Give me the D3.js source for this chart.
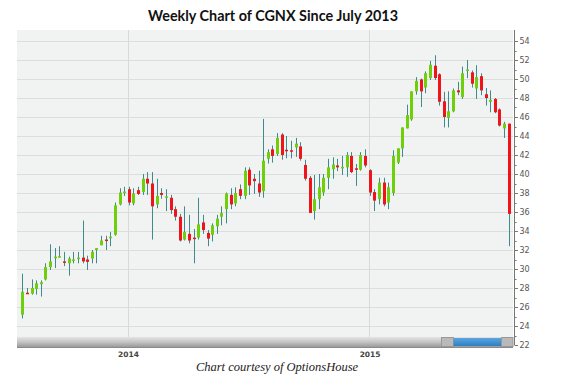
<!DOCTYPE html>
<html><head><meta charset="utf-8">
<script src="https://cdn.jsdelivr.net/npm/d3@7"></script>
<style>body{margin:0;background:#fff}svg{display:block}</style>
</head><body><svg id="c" width="562" height="392"></svg>
<script>
const title = "Weekly Chart of CGNX Since July 2013";
const caption = "Chart courtesy of OptionsHouse";
const dates = [
"2013-07-26","2013-08-02","2013-08-09","2013-08-16","2013-08-23","2013-08-30","2013-09-06","2013-09-13","2013-09-20","2013-09-27",
"2013-10-04","2013-10-11","2013-10-18","2013-10-25","2013-11-01","2013-11-08","2013-11-15","2013-11-22","2013-11-29","2013-12-06",
"2013-12-13","2013-12-20","2013-12-27","2014-01-03","2014-01-10","2014-01-17","2014-01-24","2014-01-31","2014-02-07","2014-02-14",
"2014-02-21","2014-02-28","2014-03-07","2014-03-14","2014-03-21","2014-03-28","2014-04-04","2014-04-11","2014-04-18","2014-04-25",
"2014-05-02","2014-05-09","2014-05-16","2014-05-23","2014-05-30","2014-06-06","2014-06-13","2014-06-20","2014-06-27","2014-07-04",
"2014-07-11","2014-07-18","2014-07-25","2014-08-01","2014-08-08","2014-08-15","2014-08-22","2014-08-29","2014-09-05","2014-09-12",
"2014-09-19","2014-09-26","2014-10-03","2014-10-10","2014-10-17","2014-10-24","2014-10-31","2014-11-07","2014-11-14","2014-11-21",
"2014-11-28","2014-12-05","2014-12-12","2014-12-19","2014-12-26","2015-01-02","2015-01-09","2015-01-16","2015-01-23","2015-01-30",
"2015-02-06","2015-02-13","2015-02-20","2015-02-27","2015-03-06","2015-03-13","2015-03-20","2015-03-27","2015-04-03","2015-04-10",
"2015-04-17","2015-04-24","2015-05-01","2015-05-08","2015-05-15","2015-05-22","2015-05-29","2015-06-05","2015-06-12","2015-06-19",
"2015-06-26","2015-07-03","2015-07-10","2015-07-17","2015-07-24","2015-07-31"];
const opens = [25.2,27.5,27.4,27.9,28.4,28.9,30.2,31.2,31.3,30.8, 30.6,30.9,31.1,31.2,31.0,31.1,32.0,32.5,33.1,33.3,
 33.6,36.8,38.1,38.4,36.9,38.3,38.1,39.5,39.0,36.8, 38.0,37.5,37.5,36.3,35.5,33.1,33.7,33.3,33.3,34.9,
 33.8,33.6,34.5,35.5,36.3,37.8,36.9,38.4,37.7,40.45, 39.5,39.0,38.2,41.6,42.6,42.1,44.15,42.55,42.5,42.8,
 42.9,40.95,39.6,36.1,37.35,38.05,39.6,40.5,40.9,40.6, 40.7,41.9,40.6,40.45,41.9,40.4,38.1,37.35,39.1,37.0,
 38.0,41.2,42.7,44.8,45.75,48.7,49.95,49.1,50.1,51.4, 50.5,47.65,45.9,46.6,48.8,48.1,50.9,50.7,49.0,50.3,
 48.4,47.6,47.9,46.8,44.8,45.3];
const highs = [29.5,28.0,28.9,28.8,28.8,30.6,32.6,32.2,32.4,31.8, 31.3,31.8,31.8,35.1,31.4,32.0,32.2,33.5,33.5,33.9,
 37.0,38.5,38.65,38.65,38.5,38.65,40.0,40.2,40.2,39.5, 38.5,38.4,37.8,36.6,35.8,36.6,35.7,34.2,37.5,35.7,
 34.1,34.8,35.7,36.6,38.05,38.5,38.6,38.9,40.7,40.7, 40.0,40.35,45.8,42.6,43.0,44.3,44.3,44.0,43.5,43.8,
 43.35,41.5,39.8,39.9,40.0,40.0,41.6,41.75,41.6,41.9, 42.3,42.3,41.05,42.3,42.6,40.5,38.4,39.6,39.6,39.1,
 42.5,42.7,44.9,47.3,48.7,50.2,50.05,50.8,51.9,52.5, 50.6,48.65,48.7,49.0,49.7,51.3,52.0,50.9,51.45,50.6,
 49.05,48.8,48.0,46.9,45.5,45.3];
const lows = [24.8,27.4,27.3,27.3,27.1,28.8,29.9,30.1,31.2,30.3, 29.3,30.6,30.6,30.6,29.9,30.6,30.6,32.5,32.0,32.4,
 33.5,36.7,37.7,36.7,36.7,37.8,37.8,37.8,33.1,36.4, 37.4,36.1,35.8,35.1,32.9,33.0,32.7,30.6,33.1,33.7,
 32.4,32.9,33.7,34.6,34.8,36.3,36.6,37.35,37.35,37.8, 37.9,37.6,37.5,41.1,41.2,41.9,41.5,41.65,41.65,41.8,
 41.4,39.3,35.9,35.2,36.3,37.7,38.4,39.5,40.3,39.9, 39.7,40.1,38.75,40.35,40.7,37.7,36.1,36.8,36.6,36.3,
 37.7,41.05,41.8,44.8,45.6,48.35,47.05,48.5,49.9,49.9, 47.2,44.9,44.9,46.5,48.3,47.9,50.1,49.1,47.9,48.3,
 47.2,46.5,46.4,45.0,43.8,32.4];
const closes = [27.6,27.4,28.0,28.5,28.6,30.2,30.8,31.3,31.35,30.7, 31.1,31.0,31.2,30.8,30.75,31.8,32.2,33.0,33.0,33.4,
 36.7,38.05,38.15,37.0,37.95,37.9,39.5,39.0,36.6,37.7, 37.8,37.65,36.2,35.5,33.0,33.9,33.0,33.2,34.7,34.1,
 33.2,34.6,35.3,35.9,37.95,36.8,38.0,37.7,40.35,38.8, 39.25,38.05,41.4,42.3,41.9,43.8,42.0,42.4,42.45,43.2,
 41.6,39.5,35.9,37.35,38.6,39.6,40.7,41.0,40.7,40.75, 42.0,40.2,40.5,42.0,40.9,38.05,37.2,39.1,36.8,38.6,
 41.9,42.7,44.9,46.2,48.7,49.8,48.7,50.6,51.5,50.1, 47.6,46.0,46.6,48.8,48.6,50.6,51.0,49.5,50.2,48.8,
 48.0,47.8,46.5,45.1,45.3,35.8];
const yTickValues = [22,24,26,28,30,32,34,36,38,40,42,44,46,48,50,52,54];
const xTickDates = ["2014-01-01","2015-01-01"];
const xTickLabels = ["2014","2015"];

const parse = d3.utcParse("%Y-%m-%d");
const data = dates.map((d,i)=>({date:parse(d),o:opens[i],h:highs[i],l:lows[i],c:closes[i]}));

const svg = d3.select("#c");
const L = 17, R = 513, T = 30, B = 337;

const x = d3.scaleUtc().domain([data[0].date, data[data.length-1].date]).range([22.3, 508.7]);
const y = d3.scaleLinear().domain([24, 54]).range([326, 41]);

// title
svg.append("text").attr("x",273).attr("y",21).attr("text-anchor","middle")
  .attr("font-family","Lato, 'Open Sans', sans-serif").attr("font-weight","bold").attr("font-size",14.5)
  .attr("fill","#111").attr("textLength",250).attr("lengthAdjust","spacingAndGlyphs").text(title);

// plot background
svg.append("rect").attr("x",L).attr("y",T).attr("width",R-L).attr("height",B-T).attr("fill","#f1f2f2");

// horizontal grid
svg.append("g").selectAll("line").data(yTickValues.filter(v=>y(v)>T && y(v)<B)).join("line")
  .attr("x1",L).attr("x2",R).attr("y1",d=>Math.round(y(d))+0.5).attr("y2",d=>Math.round(y(d))+0.5)
  .attr("stroke","#dcdede").attr("stroke-width",1);

// vertical grid
svg.append("g").selectAll("line").data(xTickDates).join("line")
  .attr("x1",d=>Math.round(x(parse(d)))+0.5).attr("x2",d=>Math.round(x(parse(d)))+0.5)
  .attr("y1",T).attr("y2",B).attr("stroke","#d8dada").attr("stroke-width",1);

// candles
const g = svg.append("g");
const wickColor = "#3f8a8c";
g.selectAll("line.w").data(data).join("line").attr("class","w")
  .attr("x1",d=>Math.round(x(d.date))+0.5).attr("x2",d=>Math.round(x(d.date))+0.5)
  .attr("y1",d=>y(d.h)).attr("y2",d=>y(d.l)).attr("stroke",wickColor).attr("stroke-width",1);
g.selectAll("rect.b").data(data).join("rect").attr("class","b")
  .attr("x",d=>Math.round(x(d.date))-1).attr("width",3)
  .attr("y",d=>y(Math.max(d.o,d.c)))
  .attr("height",d=>Math.max(1.5, Math.abs(y(d.o)-y(d.c))))
  .attr("fill",d=>d.c>=d.o?"#6fcf0a":"#f0141a");

// scrollbar
const defs = svg.append("defs");
const gr = defs.append("linearGradient").attr("id","sb").attr("x1",0).attr("y1",0).attr("x2",0).attr("y2",1);
gr.append("stop").attr("offset","0%").attr("stop-color","#e4e4e4");
gr.append("stop").attr("offset","50%").attr("stop-color","#c4c4c4");
gr.append("stop").attr("offset","100%").attr("stop-color","#9a9a9a");
const gb = defs.append("linearGradient").attr("id","sbb").attr("x1",0).attr("y1",0).attr("x2",0).attr("y2",1);
gb.append("stop").attr("offset","0%").attr("stop-color","#5aa6e0");
gb.append("stop").attr("offset","100%").attr("stop-color","#2f7fc0");
svg.append("rect").attr("x",L).attr("y",B).attr("width",R-L).attr("height",10).attr("fill","url(#sb)");
svg.append("line").attr("x1",L).attr("x2",R).attr("y1",347.5).attr("y2",347.5).attr("stroke","#8a8a8a");
svg.append("rect").attr("x",441.5).attr("y",B+0.5).attr("width",12).attr("height",9).attr("fill","#b9b9b9").attr("stroke","#999");
svg.append("rect").attr("x",453.5).attr("y",B+1).attr("width",48).attr("height",8).attr("fill","url(#sbb)");
svg.append("rect").attr("x",501.5).attr("y",B+0.5).attr("width",11.5).attr("height",9).attr("fill","#b9b9b9").attr("stroke","#999");

// right axis
const yAxisMinor = d3.range(22,55,1);
const ax = svg.append("g");
ax.append("line").attr("x1",514.5).attr("x2",514.5).attr("y1",T).attr("y2",y(22)).attr("stroke","#777");
ax.selectAll("line.t").data(yAxisMinor).join("line").attr("class","t")
  .attr("x1",514.5).attr("x2",d=>d%2===0?518:516.5)
  .attr("y1",d=>Math.round(y(d))+0.5).attr("y2",d=>Math.round(y(d))+0.5).attr("stroke","#777");
ax.selectAll("text").data(yTickValues).join("text")
  .attr("x",519.5).attr("y",d=>y(d)+3).attr("font-family","'DejaVu Sans', sans-serif")
  .attr("font-size",8).attr("fill","#555").text(d=>d);

// x labels
svg.append("g").selectAll("text").data(xTickDates).join("text")
  .attr("x",(d)=>x(parse(d))+1).attr("y",357).attr("text-anchor","middle")
  .attr("font-family","'DejaVu Sans', sans-serif").attr("font-size",7.5).attr("font-weight","bold")
  .attr("fill","#444").text((d,i)=>xTickLabels[i]);

// caption
svg.append("text").attr("x",277).attr("y",371).attr("text-anchor","middle")
  .attr("font-family","'Liberation Serif', serif").attr("font-style","italic").attr("font-size",12.5)
  .attr("fill","#222").text(caption);
</script></body></html>
